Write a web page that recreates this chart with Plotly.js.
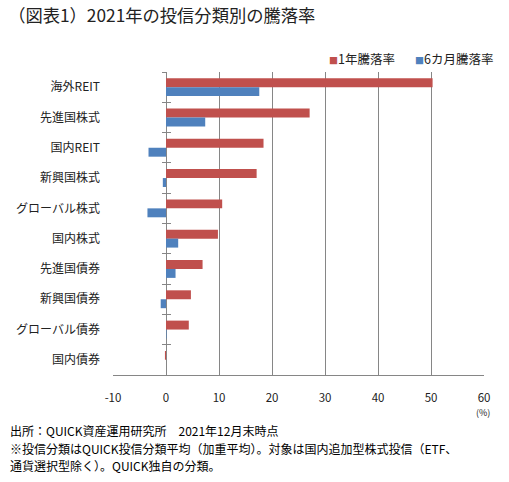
<!DOCTYPE html>
<html>
<head>
<meta charset="utf-8">
<script src="https://cdn.plot.ly/plotly-3.0.1.min.js"></script>
<style>html,body{margin:0;padding:0;background:#fff;}#chart{width:509px;height:482px;}</style>
</head>
<body>
<div id="chart"></div>
<script>
const categories = ["海外REIT","先進国株式","国内REIT","新興国株式","グローバル株式","国内株式","先進国債券","新興国債券","グローバル債券","国内債券"];
const oneYear = [50.3, 27.1, 18.4, 17.1, 10.6, 9.8, 6.9, 4.7, 4.3, -0.2];
const sixMonth = [17.6, 7.4, -3.3, -0.6, -3.5, 2.3, 1.8, -1.0, 0.1, 0.0];
const seriesNames = ["1年騰落率", "6カ月騰落率"];
const seriesColors = ["#C0504D", "#4F81BD"];
const xTicks = [-10, 0, 10, 20, 30, 40, 50, 60];
const titleText = "（図表1）2021年の投信分類別の騰落率";
const unitText = "(%)";
const notes = [
  "出所：QUICK資産運用研究所　2021年12月末時点",
  "※投信分類はQUICK投信分類平均（加重平均）。対象は国内追加型株式投信（ETF、",
  "通貨選択型除く）。QUICK独自の分類。"
];

const FONT = "Noto Sans CJK JP, Noto Sans, sans-serif";
const GRID = "#868686";

const data = [
  {type:"bar", orientation:"h", name:seriesNames[0], y:categories, x:oneYear,
   marker:{color:seriesColors[0]}, hoverinfo:"x+y"},
  {type:"bar", orientation:"h", name:seriesNames[1], y:categories, x:sixMonth,
   marker:{color:seriesColors[1]}, hoverinfo:"x+y"},
  {type:"scatter", mode:"none", y:categories, x:oneYear, yaxis:"y2", showlegend:false, hoverinfo:"skip"},
  {type:"scatter", mode:"none", y:categories, x:oneYear, yaxis:"y3", showlegend:false, hoverinfo:"skip"}
];

const catAxisCommon = {
  type:"category", categoryorder:"array", categoryarray:categories,
  autorange:"reversed", showgrid:false, zeroline:false
};

// legend drawn as annotations (small square + series name), like the reference
const legendX = [0.5764, 0.8080];
const legendAnns = seriesNames.map((n, i) => ({
  text:'<span style="color:' + seriesColors[i] + ';font-size:9px">■</span>' + n,
  xref:"paper", yref:"paper", x:legendX[i], y:1.046, xanchor:"left", yanchor:"middle",
  showarrow:false, font:{size:12.5, family:FONT, color:"#222"}
}));

// footnote lines, one annotation each
const noteY = [-0.1830, -0.2415, -0.3000];
const noteAnns = notes.map((t, i) => ({
  text:t, xref:"paper", yref:"paper", x:-0.283, y:noteY[i], xanchor:"left", yanchor:"middle",
  align:"left", showarrow:false, font:{size:12, family:FONT, color:"#000"}
}));

const layout = {
  width:509, height:482,
  margin:{l:113, r:25, t:72, b:107},
  paper_bgcolor:"#fff", plot_bgcolor:"#fff",
  font:{family:FONT, color:"#000", size:12},
  barmode:"group", bargap:0.41, bargroupgap:0,
  showlegend:false,
  title:{text:titleText, x:0.016, xanchor:"left", xref:"container", y:0.967, yanchor:"middle", yref:"container",
         font:{size:17.3, family:FONT, color:"#222", weight:"normal"}},
  xaxis:{range:[-10,60], tickvals:xTicks, ticktext:xTicks.map(String), showgrid:true, gridcolor:GRID, gridwidth:1,
         zeroline:true, zerolinecolor:GRID, zerolinewidth:1,
         showline:true, linecolor:GRID, linewidth:1, ticks:"", ticklabelstandoff:12,
         tickfont:{size:11.5, family:FONT, color:"#222"}, fixedrange:true},
  yaxis:Object.assign({}, catAxisCommon, {showline:false, ticks:"", ticklabelstandoff:12,
         tickfont:{size:12, family:FONT, color:"#222"}}),
  yaxis2:Object.assign({}, catAxisCommon, {overlaying:"y", anchor:"free", position:1/7, side:"left",
         showline:false, showticklabels:false, ticks:"outside", tickson:"boundaries", ticklen:4, tickcolor:GRID, tickwidth:1}),
  yaxis3:Object.assign({}, catAxisCommon, {overlaying:"y", anchor:"free", position:1/7, side:"left",
         showline:false, showticklabels:false, ticks:"inside", tickson:"boundaries", ticklen:4, tickcolor:GRID, tickwidth:1}),
  annotations:legendAnns.concat(noteAnns, [
    {text:unitText, xref:"paper", yref:"paper", x:0.997, y:-0.125, xanchor:"center", yanchor:"middle",
     showarrow:false, font:{size:9, family:FONT, color:"#222"}}
  ])
};

Plotly.newPlot("chart", data, layout, {displayModeBar:false, staticPlot:true});
</script>
</body>
</html>
